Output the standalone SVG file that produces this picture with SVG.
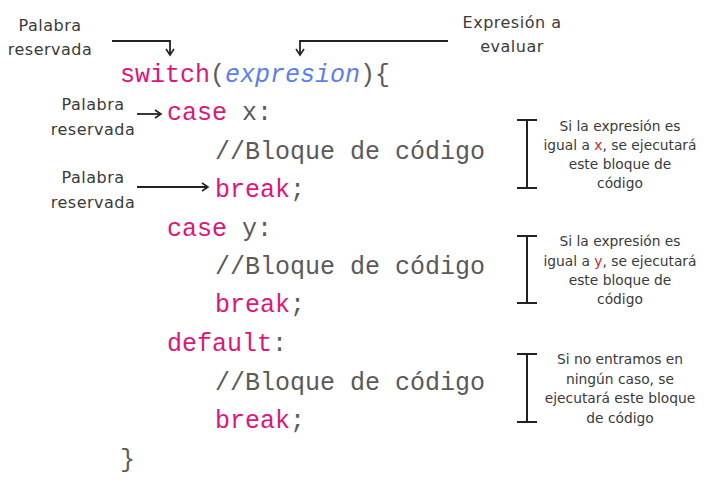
<svg xmlns="http://www.w3.org/2000/svg" width="721" height="483" viewBox="0 0 721 483">
  <defs>
    <marker id="ah" markerWidth="10" markerHeight="10" refX="8" refY="5" orient="auto" markerUnits="userSpaceOnUse">
      <path d="M2,1 L8,5 L2,9" fill="none" stroke="#222" stroke-width="1.6"/>
    </marker>
    <style>
      .code { font-family: "Liberation Mono", "DejaVu Sans Mono", monospace; font-size: 25px; fill: #5a5a5a; }
      .kw { fill: #e0157a; }
      .ex { fill: #5b7ff0; font-style: italic; }
      .lbl { font-family: "DejaVu Sans", "Noto Sans", sans-serif; font-size: 16px; letter-spacing: 0.5px; fill: #3a3a3a; text-anchor: middle; }
      .note { font-family: "DejaVu Sans", "Noto Sans", sans-serif; font-size: 13.8px; fill: #3a3a3a; text-anchor: middle; }
      .red { fill: #d4232b; }
      .conn { fill: none; stroke: #222; stroke-width: 1.8; }
      .bar { fill: none; stroke: #222; stroke-width: 2; }
    </style>
  </defs>
  <rect width="721" height="483" fill="#fff"/>

  <!-- code block -->
  <g id="code">
    <text class="code" x="120" y="82"><tspan class="kw">switch</tspan>(<tspan class="ex">expresion</tspan>){</text>
    <text class="code" x="167" y="120"><tspan class="kw">case</tspan> x:</text>
    <text class="code" x="215" y="159">//Bloque de código</text>
    <text class="code" x="215" y="197"><tspan class="kw">break</tspan>;</text>
    <text class="code" x="167" y="236"><tspan class="kw">case</tspan> y:</text>
    <text class="code" x="215" y="274">//Bloque de código</text>
    <text class="code" x="215" y="312"><tspan class="kw">break</tspan>;</text>
    <text class="code" x="167" y="351"><tspan class="kw">default</tspan>:</text>
    <text class="code" x="215" y="390">//Bloque de código</text>
    <text class="code" x="215" y="428"><tspan class="kw">break</tspan>;</text>
    <text class="code" x="120" y="467">}</text>
  </g>

  <!-- labels -->
  <g id="lbl-switch">
    <text class="lbl" x="50" y="31">Palabra</text>
    <text class="lbl" x="50" y="55">reservada</text>
  </g>
  <g id="lbl-expr">
    <text class="lbl" x="512" y="28">Expresión a</text>
    <text class="lbl" x="512" y="52">evaluar</text>
  </g>
  <g id="lbl-case">
    <text class="lbl" x="93" y="110">Palabra</text>
    <text class="lbl" x="93" y="135">reservada</text>
  </g>
  <g id="lbl-break">
    <text class="lbl" x="93" y="183">Palabra</text>
    <text class="lbl" x="93" y="208">reservada</text>
  </g>

  <!-- notes with brackets -->
  <g id="note-x">
    <path class="bar" d="M517,120 H537 M527,120 V188 M517,188 H537"/>
    <text class="note" x="620" y="131">Si la expresión es</text>
    <text class="note" x="620" y="150">igual a <tspan class="red">x</tspan>, se ejecutará</text>
    <text class="note" x="620" y="169">este bloque de</text>
    <text class="note" x="620" y="188">código</text>
  </g>
  <g id="note-y">
    <path class="bar" d="M517,236 H537 M527,236 V303 M517,303 H537"/>
    <text class="note" x="620" y="246">Si la expresión es</text>
    <text class="note" x="620" y="266">igual a <tspan class="red">y</tspan>, se ejecutará</text>
    <text class="note" x="620" y="285">este bloque de</text>
    <text class="note" x="620" y="304">código</text>
  </g>
  <g id="note-default">
    <path class="bar" d="M517,354 H537 M527,354 V422 M517,422 H537"/>
    <text class="note" x="620" y="364">Si no entramos en</text>
    <text class="note" x="620" y="384">ningún caso, se</text>
    <text class="note" x="620" y="403">ejecutará este bloque</text>
    <text class="note" x="620" y="423">de código</text>
  </g>

  <!-- connectors -->
  <g id="connectors">
    <path class="conn" d="M112,41 H170 V55" marker-end="url(#ah)"/>
    <path class="conn" d="M448,41 H300 V55" marker-end="url(#ah)"/>
    <path class="conn" d="M137,114 H161" marker-end="url(#ah)"/>
    <path class="conn" d="M137,187 H208" marker-end="url(#ah)"/>
  </g>
</svg>
